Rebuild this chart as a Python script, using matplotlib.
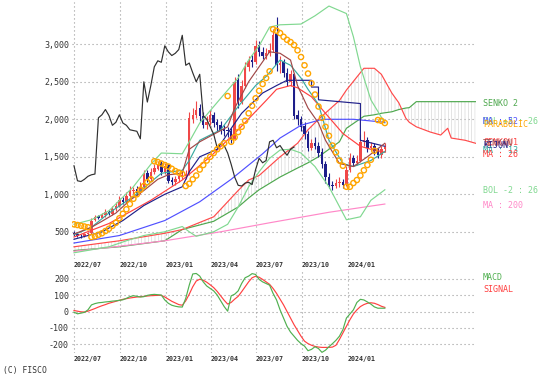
import numpy as np
import pandas as pd
import matplotlib
matplotlib.use("Agg")
import matplotlib.pyplot as plt
import matplotlib.transforms as mtransforms

# ---------------- data ----------------
weeks = list(range(90))
opens = [490, 470, 450, 440, 470, 480, 660, 710, 690, 720,
         770, 740, 800, 850, 930, 900, 980, 1040, 1070, 1020,
         1100, 1280, 1200, 1300, 1340, 1420, 1300, 1390, 1190, 1160,
         1200, 1240, 1250, 1280, 2010, 2060, 2150, 2050, 1920, 1960,
         2060, 1960, 1930, 1870, 1860, 1840, 1740, 2520, 2230, 2450,
         2700, 2790, 2760, 2990, 2900, 2840, 2880, 2930, 3150, 2720,
         2760, 2620, 2500, 2600, 2060, 2000, 1910, 1800, 1620, 1690,
         1650, 1560, 1400, 1230, 1120, 1110, 1150, 1170, 1130, 1330,
         1480, 1420, 1450, 1700, 1720, 1620, 1650, 1580, 1520, 1600]
closes = [470, 450, 440, 470, 480, 650, 700, 690, 720, 760,
          740, 800, 850, 920, 900, 980, 1050, 1060, 1020, 1100,
          1270, 1200, 1300, 1350, 1400, 1300, 1380, 1180, 1170, 1200,
          1240, 1260, 1270, 2020, 2060, 2130, 2050, 1920, 1960, 2060,
          1950, 1920, 1860, 1850, 1840, 1740, 2500, 2230, 2450, 2700,
          2780, 2760, 2980, 2900, 2850, 2880, 2930, 3120, 2720, 2750,
          2620, 2500, 2600, 2050, 2000, 1900, 1800, 1620, 1680, 1650,
          1550, 1400, 1230, 1120, 1110, 1150, 1160, 1130, 1330, 1480,
          1420, 1450, 1700, 1720, 1620, 1650, 1580, 1520, 1600, 1630]
highs = [510, 490, 470, 490, 500, 690, 730, 730, 750, 800,
         790, 840, 900, 980, 960, 1030, 1110, 1100, 1110, 1160,
         1330, 1320, 1350, 1400, 1450, 1440, 1420, 1400, 1230, 1250,
         1290, 1310, 1320, 2100, 2150, 2250, 2200, 2100, 2050, 2120,
         2100, 2000, 1980, 1920, 1900, 1880, 2560, 2600, 2520, 2760,
         2850, 2860, 3060, 3050, 2960, 2950, 3020, 3200, 3360, 2850,
         2800, 2680, 2660, 2620, 2120, 2050, 1960, 1840, 1740, 1760,
         1700, 1620, 1440, 1280, 1180, 1200, 1230, 1200, 1380, 1550,
         1530, 1520, 1800, 1850, 1760, 1700, 1690, 1620, 1640, 1680]
lows = [450, 430, 420, 430, 455, 470, 640, 670, 680, 700,
        720, 730, 780, 830, 870, 880, 960, 1000, 990, 1000,
        1080, 1170, 1180, 1270, 1320, 1260, 1270, 1150, 1120, 1130,
        1170, 1200, 1200, 1260, 1950, 2020, 1980, 1880, 1870, 1930,
        1900, 1850, 1800, 1780, 1760, 1680, 1720, 2150, 2200, 2420,
        2650, 2700, 2740, 2850, 2800, 2800, 2850, 2900, 2650, 2620,
        2560, 2450, 2450, 2000, 1920, 1850, 1740, 1580, 1590, 1600,
        1500, 1350, 1150, 1080, 1060, 1080, 1100, 1090, 1110, 1300,
        1380, 1390, 1430, 1650, 1560, 1580, 1520, 1480, 1490, 1560]

parabolic = [600, 590, 580, 570, 560, 430, 440, 460, 480, 510,
             540, 580, 620, 680, 740, 800, 870, 940, 1000, 1060,
             1110, 1160, 1200, 1440, 1430, 1410, 1390, 1370, 1340, 1310,
             1290, 1270, 1110, 1140, 1200, 1250, 1330, 1390, 1450, 1500,
             1550, 1600, 1640, 1680, 2310, 1700, 1760, 1830, 1900, 1980,
             2080, 2180, 2280, 2380, 2470, 2550, 2640, 3200, 3180, 3150,
             3100, 3060, 3030, 2990, 2920, 2830, 2720, 2610, 2480, 2330,
             2170, 2020, 1900, 1780, 1650, 1560, 1450, 1380, 1100, 1100,
             1150, 1190, 1250, 1320, 1390, 1460, 1580, 1990, 1980, 1950]

bb_up_wk = [0, 5, 10, 17, 22, 25, 31, 33, 36, 42, 47, 50, 53, 56, 59, 65, 69, 73, 78, 80, 82, 85, 89]
bb_up = [600, 660, 780, 1100, 1400, 1550, 1540, 1700, 1950, 2280, 2550, 2790, 2980, 3230, 3260, 3270,
         3380, 3510, 3410, 3100, 2700, 2260, 1950]
bb_lo_wk = [0, 5, 10, 15, 20, 26, 31, 33, 35, 40, 44, 47, 50, 53, 56, 59, 62, 65, 69, 73, 78, 82, 85, 89]
bb_lo = [220, 260, 300, 380, 450, 500, 570, 500, 440, 500, 600, 830, 1100, 1300, 1480, 1590, 1600,
         1550, 1370, 1100, 660, 700, 920, 1060]
ma13_wk = [0, 5, 10, 17, 25, 31, 33, 36, 42, 47, 52, 55, 59, 62, 65, 67, 70, 73, 77, 80, 85, 89]
ma13 = [460, 560, 750, 970, 1280, 1320, 1450, 1720, 1860, 2170, 2450, 2570, 2790, 2720, 2550, 2400,
        2200, 1720, 1410, 1370, 1450, 1570]
ma26_wk = [0, 10, 22, 31, 39, 47, 55, 58, 62, 64, 68, 72, 77, 82, 85, 89]
ma26 = [430, 610, 920, 1190, 1500, 1860, 2250, 2400, 2450, 2420, 2300, 2080, 1810, 1640, 1600, 1560]
ma52_wk = [0, 13, 26, 36, 45, 54, 59, 65, 71, 80, 89]
ma52 = [350, 450, 650, 900, 1200, 1540, 1750, 1920, 2000, 2000, 1960]
ma200_wk = [0, 10, 26, 42, 56, 73, 89]
ma200 = [240, 290, 380, 500, 620, 760, 870]
tenkan_wk = [0, 5, 8, 12, 16, 20, 24, 27, 31, 33, 36, 40, 44, 46, 50, 53, 56, 59, 62, 64, 67, 70,
             72, 76, 80, 84, 89]
tenkan = [470, 560, 640, 750, 920, 1050, 1200, 1260, 1280, 1600, 1700, 1800, 1900, 2150, 2500, 2700,
          2900, 2880, 2790, 2450, 2150, 1950, 1720, 1410, 1370, 1500, 1680]
kijun_wk = [0, 8, 14, 20, 26, 31, 33, 36, 41, 44, 48, 54, 58, 61, 68, 68, 70, 70, 82, 82, 89]
kijun = [400, 500, 650, 850, 1000, 1100, 1300, 1500, 1600, 1810, 2080, 2350, 2450, 2520, 2520, 2430,
         2430, 2260, 2210, 1720, 1640]
senkou_wk = [0, 13, 26, 31, 40, 47, 50, 53, 59, 64, 67, 70, 76, 78, 83, 86, 88, 91, 93, 95, 96, 98,
             102, 105, 107, 108, 112, 115]
senkou1 = [300, 380, 480, 530, 700, 1050, 1190, 1250, 1500, 1680, 1860, 2000, 2250, 2390, 2680, 2680,
           2600, 2350, 2220, 2015, 1960, 1900, 1830, 1790, 1880, 1750, 1720, 1680]
senkou2 = [250, 300, 380, 530, 640, 830, 950, 1060, 1230, 1350, 1420, 1500, 1700, 1880, 2040, 2060,
           2080, 2100, 2130, 2150, 2155, 2235, 2235, 2235, 2235, 2235, 2235, 2235]

macd = [-4, -14, -10, -5, 10, 40, 48, 53, 55, 58, 60, 63, 65, 68, 71, 80, 90, 96, 92, 88,
        90, 98, 102, 104, 102, 100, 70, 50, 38, 32, 28, 27, 80, 160, 228, 231, 215, 180, 155, 140,
        125, 100, 65, 30, 2, 95, 105, 125, 170, 205, 215, 230, 225, 195, 180, 170, 160, 110, 70, 10,
        -40, -90, -125, -150, -175, -195, -210, -238, -230, -214, -225, -248, -235, -214, -195, -175,
        -150, -110, -40, -15, 10, 55, 74, 70, 58, 45, 28, 20, 20, 20]
signal = [6, 2, -2, -3, 2, 10, 18, 27, 35, 42, 50, 56, 62, 68, 74, 78, 82, 85, 88, 90,
          92, 94, 96, 97, 98, 98, 88, 75, 62, 52, 42, 38, 65, 105, 150, 185, 196, 190, 178, 162,
          145, 122, 95, 68, 45, 55, 75, 92, 120, 150, 180, 205, 214, 208, 195, 180, 165, 140, 110, 75,
          40, 0, -40, -80, -115, -150, -180, -195, -205, -212, -216, -218, -218, -218, -216, -205,
          -170, -130, -90, -50, -15, 10, 30, 42, 50, 53, 50, 42, 32, 25]

tick_labels = ["2022/07", "2022/10", "2023/01", "2023/04", "2023/07", "2023/10", "2024/01"]
start_date = "2022-07-01"
price_ticks = [500, 1000, 1500, 2000, 2500, 3000]
macd_ticks = [-200, -100, 0, 100, 200]

# ---------------- layout ----------------
W, H = 539, 389
plt.rcParams['font.family'] = ['DejaVu Sans Mono']
plt.rcParams['hatch.linewidth'] = 0.45
fig = plt.figure(figsize=(W / 100, H / 100), dpi=100)


def px_axes(left, top, right, bottom):
    return fig.add_axes([left / W, 1 - bottom / H, (right - left) / W, (bottom - top) / H])


ax = px_axes(72, 2, 476, 259)
ax2 = px_axes(72, 270, 476, 353)

tick_pos = [(pd.Timestamp(d.replace('/', '-') + '-01') - pd.Timestamp(start_date)).days / 7.0
            for d in tick_labels]

GRID = dict(color='#9a9a9a', linestyle=(0, (1, 2.6)), linewidth=0.8)
for a in (ax, ax2):
    for s in a.spines.values():
        s.set_visible(False)
    a.set_xlim(-0.57, 115.1)
    a.set_xticks(tick_pos)
    a.set_xticklabels(tick_labels, ha='left', fontsize=4.8, color='#333333', fontweight='bold')
    a.tick_params(axis='both', length=0, colors='#333333')
    a.tick_params(axis='x', pad=2.5)
    a.tick_params(axis='y', pad=2.2, labelsize=6)
    a.grid(True, **GRID)
    a.set_axisbelow(True)

ax.set_ylim(137, 3564)
ax.set_yticks(price_ticks)
ax.set_yticklabels([f"{v:,}" for v in price_ticks])
ax2.set_ylim(-252, 252)
ax2.set_yticks(macd_ticks)
ax2.set_yticklabels([str(v) for v in macd_ticks])

# ---------------- cloud ----------------
ax.fill_between(senkou_wk, senkou1, senkou2, facecolor='none', edgecolor='#d4d4d4',
                hatch='|||||', linewidth=0, zorder=1)

# ---------------- candles ----------------
w = np.array(weeks)
o = np.array(opens); c = np.array(closes); h = np.array(highs); l = np.array(lows)
up = c >= o
RED, NAVY = '#f04848', '#1e1e8a'
ax.vlines(w[up], l[up], h[up], color=RED, lw=0.8, zorder=3)
ax.vlines(w[~up], l[~up], h[~up], color=NAVY, lw=0.8, zorder=3)
ax.bar(w[up], (c - o)[up], bottom=o[up], width=0.7, color=RED, linewidth=0, zorder=3)
ax.bar(w[~up], (o - c)[~up], bottom=c[~up], width=0.7, color=NAVY, linewidth=0, zorder=3)

# ---------------- lines ----------------
LW = 0.85
ax.plot(senkou_wk, senkou2, color='#4ea84e', lw=LW, zorder=2)
ax.plot(senkou_wk, senkou1, color='#ff4a4a', lw=LW, zorder=2)
ax.plot(ma200_wk, ma200, color='#ff88c8', lw=LW, zorder=4)
ax.plot(bb_up_wk, bb_up, color='#80d890', lw=LW, zorder=4)
ax.plot(bb_lo_wk, bb_lo, color='#80d890', lw=LW, zorder=4)
ax.plot(ma52_wk, ma52, color='#5050ff', lw=LW, zorder=4)
ax.plot(ma26_wk, ma26, color='#ff4040', lw=LW, zorder=4)
ax.plot(ma13_wk, ma13, color='#38aaa0', lw=LW, zorder=4)
ax.plot(kijun_wk, kijun, color='#20208a', lw=LW, zorder=4)
ax.plot(tenkan_wk, tenkan, color='#a04848', lw=LW, zorder=4)
ax.plot(w[:64], c[26:], color='#303030', lw=LW, zorder=4)
ax.scatter(w, parabolic, s=14, facecolors='none', edgecolors='#ffa500', linewidths=1.0, zorder=5)


# ---------------- legend labels ----------------
def lbl(a, yv, text, color):
    tr = mtransforms.blended_transform_factory(fig.transFigure, a.transData)
    a.text(483 / W, yv, text, transform=tr, fontsize=6, color=color, va='center', ha='left',
           clip_on=False)


for yv, text, col in [(2204, 'SENKO 2', '#4ea84e'), (1964, 'BOL +2 : 26', '#80d890'),
                      (1964, 'MA : 52', '#5050ff'), (1924, 'PARABOLIC', '#ffa500'),
                      (1691, 'SENKOU1', '#ff4a4a'), (1671, 'TENKAN', '#a04848'),
                      (1651, 'KIJUN', '#20208a'), (1584, 'MA : 13', '#38aaa0'),
                      (1524, 'MA : 26', '#ff4040'), (1044, 'BOL -2 : 26', '#80d890'),
                      (857, 'MA : 200', '#ff88c8')]:
    lbl(ax, yv, text, col)

# ---------------- MACD ----------------
ax2.plot(w, signal, color='#ff4040', lw=LW, zorder=3)
ax2.plot(w, macd, color='#50b050', lw=LW, zorder=4)
lbl(ax2, 205, 'MACD', '#50b050')
lbl(ax2, 132, 'SIGNAL', '#ff4040')

fig.text(3 / W, 1 - 371 / H, '(C) FISCO', fontsize=5.8, color='#333333', va='center', ha='left')

fig.savefig('out.png', dpi=100)
